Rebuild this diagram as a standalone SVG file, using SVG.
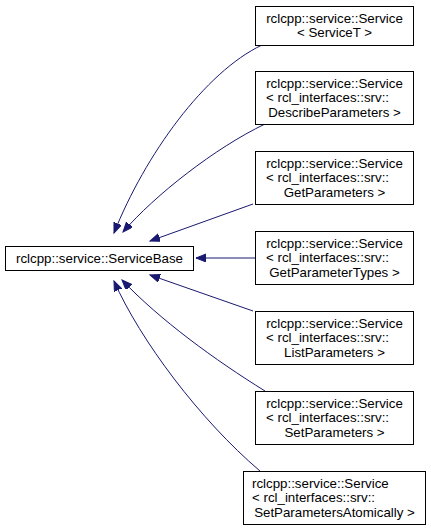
<svg xmlns="http://www.w3.org/2000/svg" width="431" height="531" viewBox="0 0 431 531">
<style>
.box{fill:#ffffff;stroke:#000000;stroke-width:1}
.t{font-family:"Liberation Sans",Arial,sans-serif;font-size:13.3px;fill:#000000}
.m{text-anchor:middle}
.e{fill:none;stroke:#191970;stroke-width:1}
</style>
<defs>
<marker id="ah" markerUnits="userSpaceOnUse" markerWidth="12" markerHeight="10" refX="10" refY="4" orient="auto">
<path d="M0,0 L10,4 L0,8 z" fill="#191970" stroke="#191970" stroke-width="1"/>
</marker>
</defs>
<rect width="431" height="531" fill="#ffffff"/>
<g id="connectors">
<path class="e" marker-end="url(#ah)" d="M262,45 C205,72 145,155 114,233"/>
<path class="e" marker-end="url(#ah)" d="M265,124 C215,148 155,195 123,232"/>
<path class="e" marker-end="url(#ah)" d="M253,204 L150,241"/>
<path class="e" marker-end="url(#ah)" d="M255,258 L196,258"/>
<path class="e" marker-end="url(#ah)" d="M253,311 L150,275"/>
<path class="e" marker-end="url(#ah)" d="M265,391 C215,360 160,320 122,280"/>
<path class="e" marker-end="url(#ah)" d="M260,471 C200,420 140,340 114,281"/>
</g>
<g id="base">
<rect class="box" x="5.5" y="246.5" width="188" height="24"/>
<text class="t m" x="99.5" y="262.5">rclcpp::service::ServiceBase</text>
</g>
<g id="n1">
<rect class="box" x="255.5" y="6.5" width="158" height="39"/>
<text class="t m" x="334.5" y="22.5">rclcpp::service::Service</text>
<text class="t m" x="334.5" y="37">&lt; ServiceT &gt;</text>
</g>
<g id="n2">
<rect class="box" x="255.5" y="71.5" width="158" height="53"/>
<text class="t m" x="334.5" y="87.5">rclcpp::service::Service</text>
<text class="t" x="266" y="102">&lt; rcl_interfaces::srv::</text>
<text class="t m" x="334.5" y="116.5">DescribeParameters &gt;</text>
</g>
<g id="n3">
<rect class="box" x="255.5" y="151.5" width="158" height="53"/>
<text class="t m" x="334.5" y="167.5">rclcpp::service::Service</text>
<text class="t" x="266" y="182">&lt; rcl_interfaces::srv::</text>
<text class="t m" x="334.5" y="196.5">GetParameters &gt;</text>
</g>
<g id="n4">
<rect class="box" x="255.5" y="231.5" width="158" height="53"/>
<text class="t m" x="334.5" y="247.5">rclcpp::service::Service</text>
<text class="t" x="266" y="262">&lt; rcl_interfaces::srv::</text>
<text class="t m" x="334.5" y="276.5">GetParameterTypes &gt;</text>
</g>
<g id="n5">
<rect class="box" x="255.5" y="311.5" width="158" height="53"/>
<text class="t m" x="334.5" y="327.5">rclcpp::service::Service</text>
<text class="t" x="266" y="342">&lt; rcl_interfaces::srv::</text>
<text class="t m" x="334.5" y="356.5">ListParameters &gt;</text>
</g>
<g id="n6">
<rect class="box" x="255.5" y="391.5" width="158" height="53"/>
<text class="t m" x="334.5" y="407.5">rclcpp::service::Service</text>
<text class="t" x="266" y="422">&lt; rcl_interfaces::srv::</text>
<text class="t m" x="334.5" y="436.5">SetParameters &gt;</text>
</g>
<g id="n7">
<rect class="box" x="243.5" y="471.5" width="182" height="53"/>
<text class="t" x="252" y="487.5">rclcpp::service::Service</text>
<text class="t" x="252" y="502">&lt; rcl_interfaces::srv::</text>
<text class="t m" x="334.5" y="516.5">SetParametersAtomically &gt;</text>
</g>
</svg>
